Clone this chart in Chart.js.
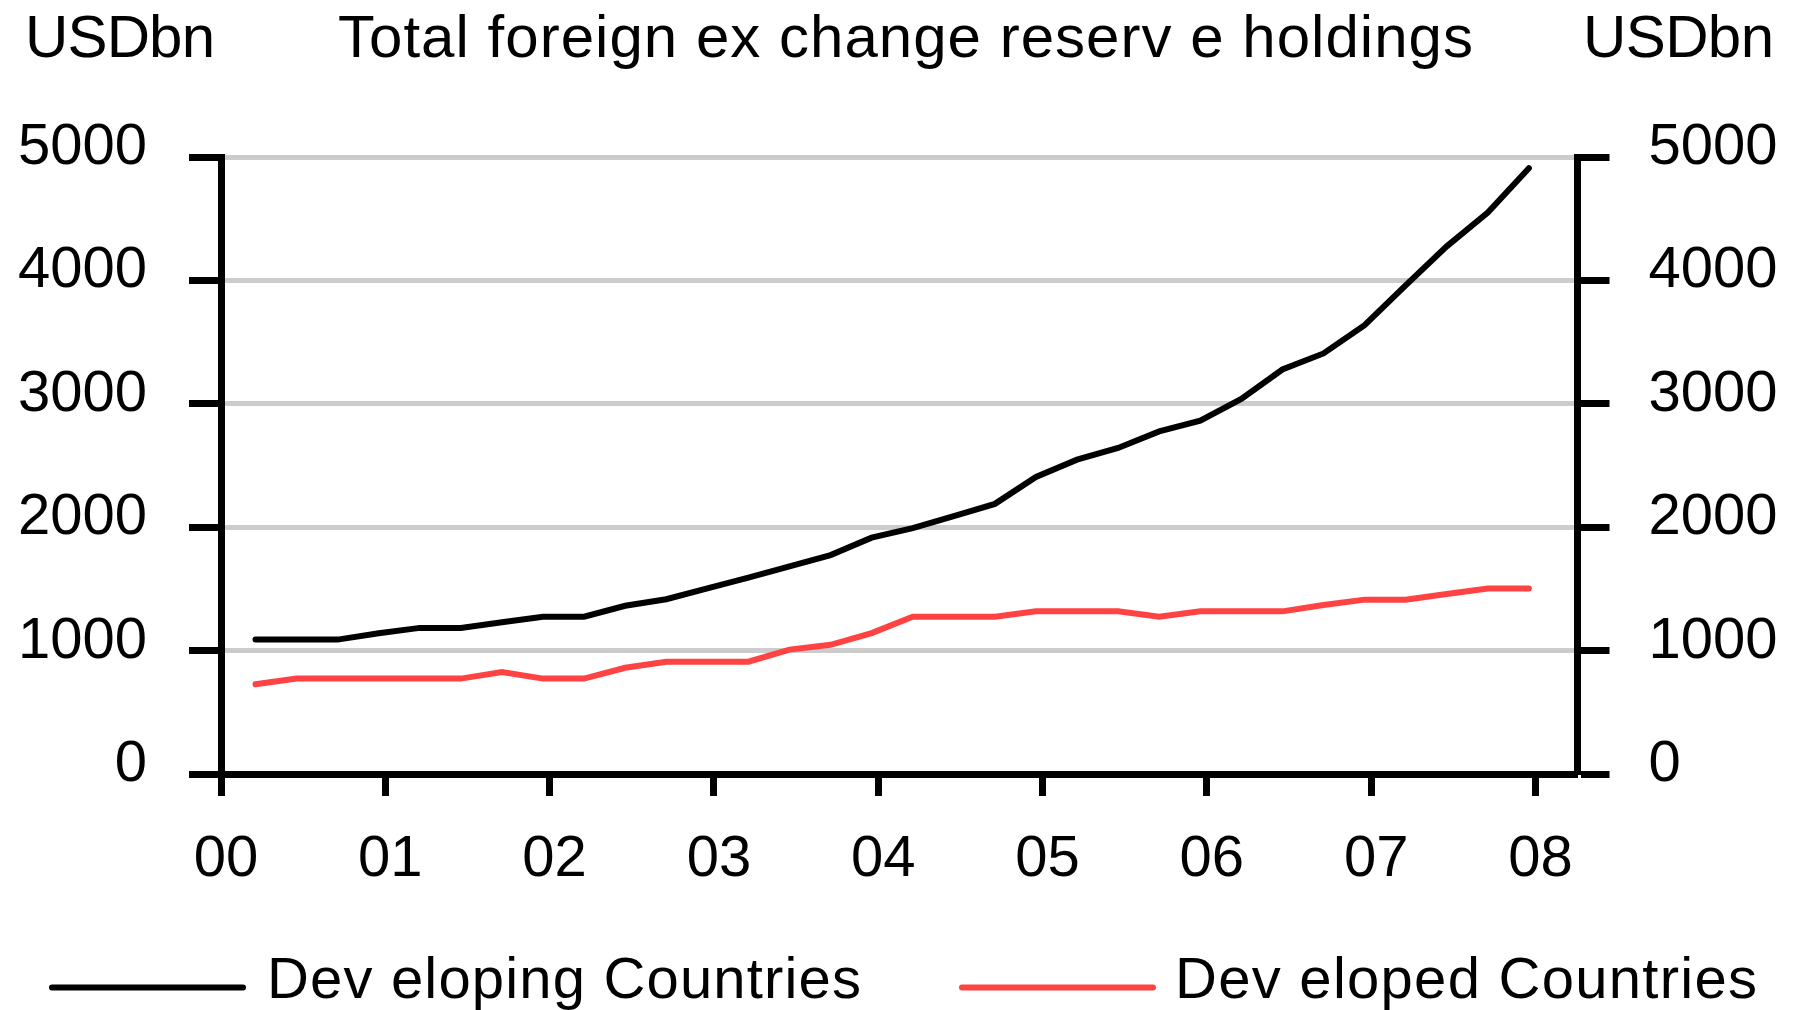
<!DOCTYPE html>
<html>
<head>
<meta charset="utf-8">
<script src="https://cdn.jsdelivr.net/npm/chart.js@4"></script>
<style>
    html, body { margin: 0; padding: 0; background: #ffffff; }
    #chart-reserves { display: block; }
</style>
</head>
<body>
<canvas id="chart-reserves" width="1795" height="1010"></canvas>
<script>
const quarters = [
    "2000 Q1", "2000 Q2", "2000 Q3", "2000 Q4",
    "2001 Q1", "2001 Q2", "2001 Q3", "2001 Q4",
    "2002 Q1", "2002 Q2", "2002 Q3", "2002 Q4",
    "2003 Q1", "2003 Q2", "2003 Q3", "2003 Q4",
    "2004 Q1", "2004 Q2", "2004 Q3", "2004 Q4",
    "2005 Q1", "2005 Q2", "2005 Q3", "2005 Q4",
    "2006 Q1", "2006 Q2", "2006 Q3", "2006 Q4",
    "2007 Q1", "2007 Q2", "2007 Q3", "2007 Q4"
]
const developing = [
    1089, 1089, 1089, 1140, 1184, 1184, 1230, 1275,
    1275, 1363, 1416, 1504, 1592, 1683, 1774, 1915,
    1992, 2090, 2189, 2407, 2547, 2642, 2776, 2864,
    3039, 3278, 3408, 3637, 3960, 4276, 4550, 4909
]
const developed = [
    727, 773, 773, 773, 773, 773, 826, 773,
    773, 861, 910, 910, 910, 1008, 1047, 1142,
    1275, 1275, 1275, 1318, 1318, 1318, 1275, 1318,
    1318, 1318, 1370, 1413, 1413, 1458, 1504, 1504
]
const yearLabels = ["00", "01", "02", "03", "04", "05", "06", "07", "08"]
const yTicks = [0, 1000, 2000, 3000, 4000, 5000]
const seriesNames = ["Dev eloping Countries", "Dev eloped Countries"]
const titleText = "Total foreign ex change reserv e holdings"
const unitText = "USDbn"

const FONT = "'Liberation Sans', Arial, sans-serif"

// quarter label -> position on the year axis (00 = start of 2000)
const quarterPos = (label) => {
    const [year, q] = label.split(" Q")
    return (parseInt(year) - 2000) + (parseInt(q) - 1) / 4 + 0.21
}
const toPoints = (values) => values.map((v, i) => ({ x: quarterPos(quarters[i]), y: v }))

// draw text stretched to a given width with letter spacing
const fitText = (ctx, text, x, baseline, width) => {
    ctx.letterSpacing = "0px"
    const w = ctx.measureText(text).width
    const spacing = (width - w) / Math.max(1, text.length - 1)
    ctx.letterSpacing = spacing + "px"
    ctx.fillText(text, x, baseline)
    ctx.letterSpacing = "0px"
}

const textPlugin = {
    id: "textPlugin",
    afterDraw(chart) {
        const ctx = chart.ctx
        ctx.save()
        ctx.fillStyle = "#000000"
        ctx.textAlign = "left"
        ctx.textBaseline = "alphabetic"

        ctx.font = "60px " + FONT
        fitText(ctx, unitText, 25, 57, 190)
        fitText(ctx, titleText, 338, 57, 1135)
        fitText(ctx, unitText, 1583, 57, 191)

        // legend
        const items = [
            { x0: 52, x1: 243, tx: 267, tw: 594 },
            { x0: 962, x1: 1153, tx: 1175, tw: 582 }
        ]
        chart.data.datasets.forEach((ds, i) => {
            const it = items[i]
            ctx.strokeStyle = ds.borderColor
            ctx.lineWidth = 6
            ctx.lineCap = "round"
            ctx.beginPath()
            ctx.moveTo(it.x0, 987.5)
            ctx.lineTo(it.x1, 987.5)
            ctx.stroke()
            ctx.font = "58px " + FONT
            ctx.fillStyle = "#000000"
            fitText(ctx, ds.label, it.tx, 998, it.tw)
        })
        ctx.restore()
    }
}

const plainNumber = (value) => String(value)

new Chart(document.querySelector("#chart-reserves"), {
    type: "line",
    data: {
        datasets: [{
            label: seriesNames[0],
            data: toPoints(developing),
            borderColor: "#000000",
            borderWidth: 6,
            borderCapStyle: "round",
            pointRadius: 0,
            tension: 0,
            yAxisID: "y"
        }, {
            label: seriesNames[1],
            data: toPoints(developed),
            borderColor: "#ff4343",
            borderWidth: 6,
            borderCapStyle: "round",
            pointRadius: 0,
            tension: 0,
            yAxisID: "y"
        }]
    },
    options: {
        responsive: false,
        animation: false,
        devicePixelRatio: 1,
        layout: { padding: { top: 157, left: 0, right: 0, bottom: 0 } },
        plugins: {
            legend: { display: false },
            title: { display: false },
            tooltip: { enabled: false }
        },
        scales: {
            x: {
                type: "linear",
                min: 0,
                max: 8.256,
                afterBuildTicks: (scale) => {
                    scale.ticks = yearLabels.map((_, i) => ({ value: i }))
                },
                afterFit: (scale) => { scale.height = 236 },
                ticks: {
                    callback: (value) => yearLabels[value],
                    font: { family: FONT, size: 58 },
                    color: "#000000",
                    padding: 29,
                    labelOffset: 5,
                    maxRotation: 0,
                    autoSkip: false
                },
                grid: {
                    drawOnChartArea: false,
                    tickLength: 22,
                    tickColor: "#000000",
                    tickWidth: 7
                },
                border: { display: true, color: "#000000", width: 7 }
            },
            y: {
                position: "left",
                min: 0,
                max: 5000,
                afterBuildTicks: (scale) => {
                    scale.ticks = yTicks.map((v) => ({ value: v }))
                },
                afterFit: (scale) => { scale.width = 221 },
                ticks: {
                    callback: plainNumber,
                    font: { family: FONT, size: 58 },
                    color: "#000000",
                    padding: 42,
                    labelOffset: -9
                },
                grid: {
                    color: "#cccccc",
                    lineWidth: 5,
                    tickLength: 32,
                    tickColor: "#000000",
                    tickWidth: 7
                },
                border: { display: true, color: "#000000", width: 7 }
            },
            y2: {
                position: "right",
                min: 0,
                max: 5000,
                afterBuildTicks: (scale) => {
                    scale.ticks = yTicks.map((v) => ({ value: v }))
                },
                afterFit: (scale) => { scale.width = 217.5 },
                ticks: {
                    callback: plainNumber,
                    font: { family: FONT, size: 58 },
                    color: "#000000",
                    padding: 39,
                    labelOffset: -9
                },
                grid: {
                    drawOnChartArea: false,
                    tickLength: 32,
                    tickColor: "#000000",
                    tickWidth: 7
                },
                border: { display: true, color: "#000000", width: 7 }
            }
        }
    },
    plugins: [textPlugin]
})
</script>
</body>
</html>
